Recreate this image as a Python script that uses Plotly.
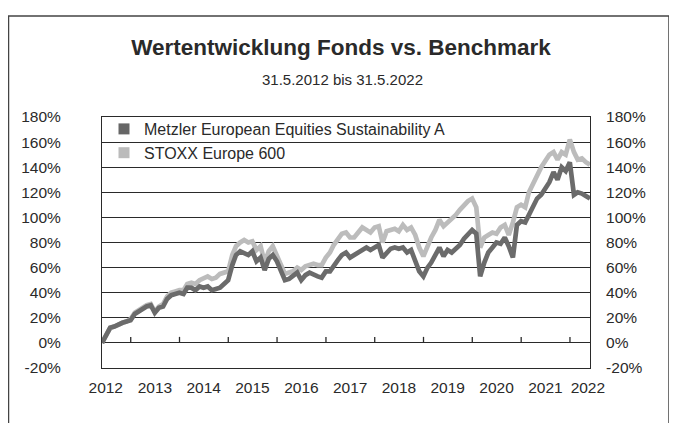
import pandas as pd
import plotly.graph_objects as go

dates = pd.date_range("2012-05-31", "2022-05-31", freq="ME")

fund_name = "Metzler European Equities Sustainability A"
bench_name = "STOXX Europe 600"

fund = [0, 7, 12, 13, 15, 16, 17, 18, 23, 25,
        27, 29, 30, 24, 28, 29, 35, 38, 39, 40,
        39, 44, 44, 42, 45, 44, 45, 42, 43, 44,
        47, 50, 62, 70, 73, 72, 70, 73, 65, 68,
        58, 67, 70, 65, 58, 50, 51, 53, 56, 50,
        54, 56, 54, 53, 52, 57, 57, 62, 66, 70,
        72, 68, 70, 72, 75, 76, 74, 76, 78, 68,
        72, 75, 76, 75, 76, 72, 74, 65, 57, 53,
        60, 64, 70, 76, 69, 74, 72, 75, 78, 83,
        86, 90, 87, 53, 64, 72, 76, 80, 79, 84,
        77, 68, 94, 97, 96, 102, 108, 115, 118, 123,
        128, 136, 130, 140, 137, 144, 118, 120, 119, 117, 115]

bench = [0, 7, 12, 13, 15, 16, 17, 19, 24, 26,
         28, 30, 31, 25, 29, 31, 37, 40, 41, 42,
         42, 47, 48, 47, 50, 51, 53, 51, 52, 55,
         56, 57, 70, 77, 80, 82, 80, 81, 74, 77,
         64, 73, 77, 70, 62, 55, 56, 57, 60, 58,
         61, 62, 63, 62, 62, 68, 72, 78, 83, 87,
         88, 84, 84, 88, 92, 90, 88, 92, 93, 80,
         89, 90, 91, 89, 94, 90, 92, 86, 76, 69,
         78, 84, 90, 98, 93, 96, 98, 102, 106, 110,
         113, 115, 108, 76, 84, 86, 88, 87, 92, 94,
         86, 96, 108, 110, 108, 120, 127, 135, 140, 145,
         150, 152, 146, 152, 150, 162, 152, 146, 147, 144, 142]

year_labels = ["2012", "2013", "2014", "2015", "2016", "2017",
               "2018", "2019", "2020", "2021", "2022"]
year_label_pos = ["2012-06-28", "2013-07-01", "2014-07-01", "2015-07-01",
                  "2016-07-01", "2017-07-01", "2018-07-01", "2019-07-01",
                  "2020-07-01", "2021-07-01", "2022-05-15"]
year_ticks = [f"{y}-01-01" for y in range(2013, 2023)]

y_ticks = list(range(-20, 181, 20))
y_labels = [f"{v}%" for v in y_ticks]

FUND_COL = "#6b6b6b"
BENCH_COL = "#bcbcbc"
INK = "#2a2a2a"
FONT = "Liberation Sans"

# page is rendered with an 8px body margin -> compensate
OFF = 8
W, H = 677, 423
PL, PR, PT, PB = 102, 590, 117, 368          # plot box in page pixels
def px(x):
    return (x - PL) / (PR - PL)
def py(y):
    return (PB - y) / (PB - PT)

fig = go.Figure()
fig.add_trace(go.Scatter(x=dates, y=bench, mode="lines", name=bench_name,
                         line=dict(color=BENCH_COL, width=4.7), showlegend=False))
fig.add_trace(go.Scatter(x=dates, y=fund, mode="lines", name=fund_name,
                         line=dict(color=FUND_COL, width=4.7), showlegend=False))
# legend entries (square swatches)
fig.add_trace(go.Scatter(x=[None], y=[None], mode="markers", name=fund_name,
                         marker=dict(symbol="square", size=11, color="#666666"),
                         yaxis="y2"))
fig.add_trace(go.Scatter(x=[None], y=[None], mode="markers", name=bench_name,
                         marker=dict(symbol="square", size=11, color="#bbbbbb"),
                         yaxis="y2"))

xr = ["2012-05-31", "2022-05-31"]

# year tick marks sitting on the 0% line, pointing up (in data units)
tick_shapes = [dict(type="line", xref="x", yref="y", x0=d, x1=d, y0=0, y1=4.8,
                    line=dict(color=INK, width=1.3), layer="between")
               for d in year_ticks]

fig.update_layout(
    width=W, height=H,
    margin=dict(l=PL - OFF, r=W - PR + OFF, t=PT - OFF, b=H - PB + OFF, autoexpand=False),
    paper_bgcolor="white", plot_bgcolor="white",
    font=dict(family=FONT, color=INK, size=15),
    title=dict(text="<b>Wertentwicklung Fonds vs. Benchmark</b>",
               font=dict(size=22.5, color=INK, family=FONT),
               x=(341 - OFF) / W, xref="container", y=1 - (47 - OFF) / H, yref="container",
               xanchor="center", yanchor="middle"),
    xaxis=dict(range=xr, type="date", tickvals=year_label_pos, ticktext=year_labels,
               ticks="outside", ticklen=5, tickcolor="rgba(0,0,0,0)",
               showgrid=False, showline=True, linecolor=INK, linewidth=1.2, mirror=True,
               tickfont=dict(size=15.5, color=INK), zeroline=False, automargin=False),
    yaxis=dict(range=[-20, 180], tickvals=y_ticks, ticktext=y_labels,
               showgrid=True, gridcolor=INK, gridwidth=1.1,
               showline=True, linecolor=INK, linewidth=1.2, mirror=True,
               zeroline=False, ticks="outside", ticklen=37, tickcolor="rgba(0,0,0,0)",
               tickfont=dict(size=15.5, color=INK), automargin=False),
    yaxis2=dict(range=[-20, 180], tickvals=y_ticks, ticktext=y_labels, overlaying="y",
                side="right", anchor="x", showgrid=False, zeroline=False,
                ticks="outside", ticklen=12, tickcolor="rgba(0,0,0,0)",
                tickfont=dict(size=15.5, color=INK), automargin=False),
    legend=dict(x=px(104), y=py(112), xanchor="left", yanchor="top",
                bgcolor="rgba(0,0,0,0)", borderwidth=0,
                font=dict(size=16, color=INK, family=FONT),
                tracegroupgap=0),
    annotations=[dict(text="31.5.2012 bis 31.5.2022", xref="paper", yref="paper",
                      x=px(342), y=py(80), showarrow=False,
                      xanchor="center", yanchor="middle",
                      font=dict(size=15, color=INK, family=FONT))],
    shapes=[
        dict(type="rect", xref="paper", yref="paper",
             x0=px(8.5), x1=px(669), y0=py(440), y1=py(16),
             line=dict(color="#444444", width=1.5), fillcolor="rgba(0,0,0,0)",
             layer="below"),
        # white panel behind the legend hiding the gridline
        dict(type="rect", xref="paper", yref="paper",
             x0=px(103.5), x1=px(465), y0=py(164), y1=py(119),
             line=dict(width=0), fillcolor="white", layer="between"),
    ] + tick_shapes,
)

fig.write_html("out.html")
